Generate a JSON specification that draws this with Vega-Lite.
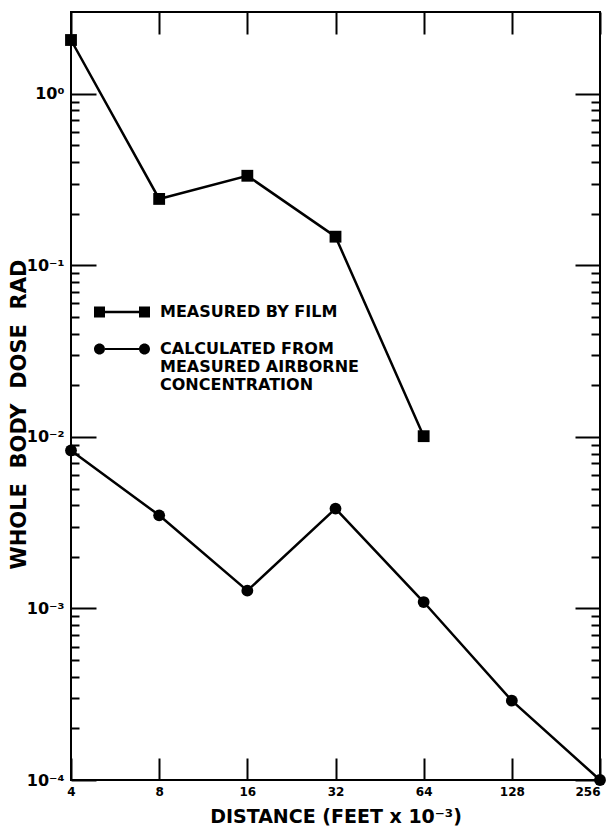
{
  "$schema": "https://vega.github.io/schema/vega-lite/v6.json",
  "width": 529,
  "height": 768,
  "autosize": {"type": "none"},
  "padding": {"left": 71, "top": 12, "right": 7, "bottom": 50},
  "background": "white",
  "config": {
    "view": {"stroke": "black", "strokeWidth": 2},
    "font": "DejaVu Sans",
    "axis": {"domain": false, "ticks": true, "tickColor": "black", "tickWidth": 2, "tickOpacity": 1, "grid": false, "labelColor": "black", "titleColor": "black", "labelFont": "DejaVu Sans", "titleFont": "DejaVu Sans", "labelFontWeight": "bold", "titleFontWeight": "bold"}
  },
  "data": {"values": [
    {"series": "film", "distance": 4, "dose": 2.06},
    {"series": "film", "distance": 8, "dose": 0.244},
    {"series": "film", "distance": 16, "dose": 0.333},
    {"series": "film", "distance": 32, "dose": 0.147},
    {"series": "film", "distance": 64, "dose": 0.0101},
    {"series": "calc", "distance": 4, "dose": 0.00834},
    {"series": "calc", "distance": 8, "dose": 0.00349},
    {"series": "calc", "distance": 16, "dose": 0.00127},
    {"series": "calc", "distance": 32, "dose": 0.00382},
    {"series": "calc", "distance": 64, "dose": 0.00109},
    {"series": "calc", "distance": 128, "dose": 0.00029},
    {"series": "calc", "distance": 256, "dose": 0.0001}
  ]},
  "layer": [
    {
      "mark": {"type": "line", "color": "black", "strokeWidth": 2.5},
      "encoding": {
        "x": {"field": "distance", "type": "quantitative",
          "scale": {"type": "log", "base": 2, "domain": [4, 256], "nice": false},
          "axis": {"orient": "bottom", "values": [4, 8, 16, 32, 64, 128, 256], "offset": -22, "tickSize": 22, "labelPadding": 6, "labelFontSize": 12,
            "labelAlign": {"condition": {"test": "datum.value == 256", "value": "right"}, "value": "center"},
            "title": "DISTANCE (FEET x 10⁻³)", "titleFontSize": 19, "titlePadding": 10}},
        "y": {"field": "dose", "type": "quantitative",
          "scale": {"type": "log", "domain": [0.0001, 3], "nice": false},
          "axis": {"orient": "left", "values": [0.0001, 0.001, 0.01, 0.1, 1], "offset": -25, "tickSize": 25,
            "labelExpr": "datum.value == 1 ? '10⁰' : datum.value == 0.1 ? '10⁻¹' : datum.value == 0.01 ? '10⁻²' : datum.value == 0.001 ? '10⁻³' : '10⁻⁴'",
            "labelFontSize": 16, "labelPadding": 7,
            "title": "WHOLE\u00a0\u00a0BODY\u00a0\u00a0DOSE\u00a0\u00a0RAD", "titleFontSize": 21, "titleX": -67, "titleY": 402}},
        "detail": {"field": "series", "type": "nominal"}
      }
    },
    {
      "mark": {"type": "point", "filled": true, "opacity": 1, "color": "black", "size": 140},
      "encoding": {
        "x": {"field": "distance", "type": "quantitative",
          "scale": {"type": "log", "base": 2, "domain": [4, 256], "nice": false},
          "axis": {"orient": "top", "values": [4, 8, 16, 32, 64, 128, 256], "offset": -22, "tickSize": 22, "labels": false, "title": null}},
        "y": {"field": "dose", "type": "quantitative",
          "scale": {"type": "log", "domain": [0.0001, 3], "nice": false},
          "axis": {"orient": "right", "values": [0.0001, 0.001, 0.01, 0.1, 1], "offset": -25, "tickSize": 25, "labels": false, "title": null}},
        "shape": {"field": "series", "type": "nominal",
          "scale": {"domain": ["film", "calc"], "range": ["square", "circle"]},
          "legend": null}
      }
    },
    {
      "transform": [{"filter": "false"}],
      "mark": {"type": "point", "filled": true, "opacity": 1, "color": "black", "size": 100},
      "encoding": {
        "x": {"field": "distance", "type": "quantitative",
          "scale": {"type": "log", "base": 2, "domain": [4, 256], "nice": false}, "axis": null},
        "y": {"field": "dose", "type": "quantitative",
          "scale": {"type": "log", "domain": [0.0001, 3], "nice": false},
          "axis": {"orient": "left",
            "values": [0.0002, 0.0003, 0.0004, 0.0005, 0.0006, 0.0007, 0.0008, 0.0009, 0.002, 0.003, 0.004, 0.005, 0.006, 0.007, 0.008, 0.009, 0.02, 0.03, 0.04, 0.05, 0.06, 0.07, 0.08, 0.09, 0.2, 0.3, 0.4, 0.5, 0.6, 0.7, 0.8, 0.9],
            "offset": -8, "tickSize": 8, "labels": false, "title": null}},
        "shape": {"field": "series", "type": "nominal",
          "scale": {"domain": ["film", "calc"], "range": [
            "M-5.6,-1.1H-3.4V-0.25H3.4V-1.1H5.6V1.1H3.4V0.25H-3.4V1.1H-5.6Z",
            "M-3.4,0A1.1,1.1 0 1,1 -5.6,0A1.1,1.1 0 1,1 -3.4,0ZM5.6,0A1.1,1.1 0 1,1 3.4,0A1.1,1.1 0 1,1 5.6,0ZM-3.4,-0.2H3.4V0.2H-3.4Z"]},
          "legend": {"orient": "none", "legendX": 43, "legendY": 292, "title": null, "padding": 0,
            "symbolSize": 100, "symbolFillColor": "black", "symbolStrokeColor": "black", "symbolStrokeWidth": 0, "symbolOpacity": 1,
            "labelFont": "DejaVu Sans", "labelFontWeight": "bold", "labelFontSize": 16, "labelColor": "black", "labelLimit": 400,
            "labelOffset": 30, "rowPadding": 21,
            "labelExpr": "datum.value == 'calc' ? ['CALCULATED FROM', 'MEASURED AIRBORNE', 'CONCENTRATION'] : 'MEASURED BY FILM'"}
        }
      }
    },
    {
      "transform": [{"filter": "false"}],
      "mark": {"type": "point", "filled": true, "opacity": 0, "size": 10},
      "encoding": {
        "x": {"field": "distance", "type": "quantitative",
          "scale": {"type": "log", "base": 2, "domain": [4, 256], "nice": false}, "axis": null},
        "y": {"field": "dose", "type": "quantitative",
          "scale": {"type": "log", "domain": [0.0001, 3], "nice": false},
          "axis": {"orient": "right",
            "values": [0.0002, 0.0003, 0.0004, 0.0005, 0.0006, 0.0007, 0.0008, 0.0009, 0.002, 0.003, 0.004, 0.005, 0.006, 0.007, 0.008, 0.009, 0.02, 0.03, 0.04, 0.05, 0.06, 0.07, 0.08, 0.09, 0.2, 0.3, 0.4, 0.5, 0.6, 0.7, 0.8, 0.9],
            "offset": -9, "tickSize": 9, "labels": false, "title": null}}
      }
    }
  ],
  "resolve": {"axis": {"x": "independent", "y": "independent"}, "scale": {"shape": "independent"}}
}
